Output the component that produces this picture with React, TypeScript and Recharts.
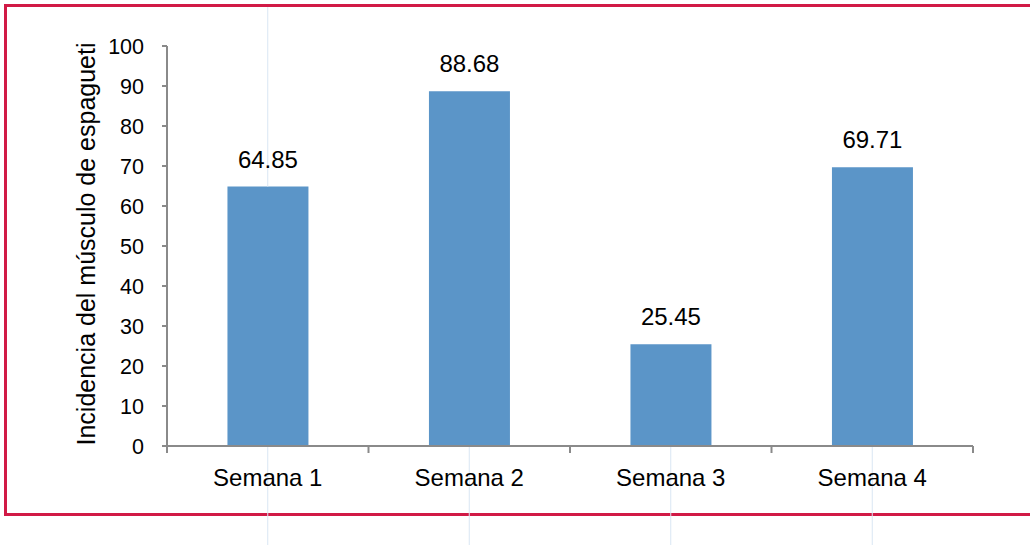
import React from "react";
import { BarChart, Bar, XAxis, YAxis, LabelList, ReferenceLine } from "recharts";

// Weekly incidence of the "spaghetti muscle" condition
const weeks = ["Semana 1", "Semana 2", "Semana 3", "Semana 4"];
const incidence = [64.85, 88.68, 25.45, 69.71];
const yTicks = [0, 10, 20, 30, 40, 50, 60, 70, 80, 90, 100];

const data = weeks.map((week, i) => ({ week, value: incidence[i] }));

const FONT = '"Liberation Sans", Arial, Helvetica, sans-serif';
const AXIS_GREY = "#8a8a8a";
const BAR_BLUE = "#5b95c8";
const FRAME_RED = "#d11a46";
const GUIDE_BLUE = "#d9e6f3";

const X_TICK_SIZE = 6;
const X_TICK_MARGIN = 17;
const EDGE_TICK_LEN = 7;

// Category label with tick marks placed on the band edges instead of the centre
const WeekTick = (props: any) => {
  const { x, y, payload, index } = props;
  const half = payload && typeof payload.offset === "number" ? payload.offset : 0;
  const axisY = y - X_TICK_SIZE - X_TICK_MARGIN;
  const isLast = index === weeks.length - 1;
  return (
    <g>
      <line
        x1={x - half}
        x2={x - half}
        y1={axisY}
        y2={axisY + EDGE_TICK_LEN}
        stroke={AXIS_GREY}
        strokeWidth={2}
      />
      {isLast && (
        <line
          x1={x + half}
          x2={x + half}
          y1={axisY}
          y2={axisY + EDGE_TICK_LEN}
          stroke={AXIS_GREY}
          strokeWidth={2}
        />
      )}
      <text
        x={x}
        y={y}
        dy="0.71em"
        textAnchor="middle"
        fontSize={24}
        fill="#000"
        fontFamily={FONT}
      >
        {payload.value}
      </text>
    </g>
  );
};

const YTitle = (props: any) => {
  const vb = props.viewBox || {};
  const cx = vb.x - 1;
  const cy = vb.y + vb.height / 2 - 2;
  return (
    <text
      x={cx}
      y={cy}
      transform={`rotate(-90, ${cx}, ${cy})`}
      textAnchor="middle"
      dominantBaseline="central"
      fontSize={25}
      fill="#000"
      fontFamily={FONT}
    >
      Incidencia del músculo de espagueti
    </text>
  );
};

export default function App() {
  return (
    <div style={{ position: "absolute", left: 0, top: 0, width: 1030, height: 545, overflow: "hidden", background: "#fff" }}>
      <div
        style={{
          position: "absolute",
          left: 4,
          top: 4,
          width: 1026,
          height: 512,
          boxSizing: "border-box",
          borderLeft: `3px solid ${FRAME_RED}`,
          borderTop: `3px solid ${FRAME_RED}`,
          borderBottom: `3px solid ${FRAME_RED}`,
        }}
      />
      <div style={{ position: "absolute", left: 0, top: 0 }}>
        <BarChart
          width={1030}
          height={545}
          data={data}
          margin={{ top: 46, right: 57, bottom: 59, left: 87 }}
          barCategoryGap="30%"
          style={{ fontFamily: FONT }}
        >
          <XAxis
            dataKey="week"
            height={40}
            axisLine={{ stroke: AXIS_GREY, strokeWidth: 2 }}
            tickLine={false}
            tickSize={X_TICK_SIZE}
            tickMargin={X_TICK_MARGIN}
            tick={<WeekTick />}
            interval={0}
          />
          <YAxis
            width={80}
            domain={[0, 100]}
            ticks={yTicks}
            interval={0}
            axisLine={{ stroke: AXIS_GREY, strokeWidth: 2 }}
            tickLine={{ stroke: AXIS_GREY, strokeWidth: 2 }}
            tickSize={5}
            tickMargin={18}
            tick={{ fontSize: 21.5, fill: "#000", fontFamily: FONT }}
            label={<YTitle />}
          />
          {weeks.map((w) => (
            <ReferenceLine
              key={`low-${w}`}
              segment={[
                { x: w, y: 0 },
                { x: w, y: -25 },
              ]}
              ifOverflow="visible"
              stroke={GUIDE_BLUE}
              strokeWidth={1}
            />
          ))}
          <ReferenceLine
            segment={[
              { x: weeks[0], y: incidence[0] },
              { x: weeks[0], y: 109.75 },
            ]}
            ifOverflow="visible"
            stroke={GUIDE_BLUE}
            strokeWidth={1}
          />
          <Bar dataKey="value" fill={BAR_BLUE} isAnimationActive={false}>
            <LabelList
              dataKey="value"
              position="top"
              offset={19}
              fontSize={24}
              fill="#000"
              fontFamily={FONT}
              formatter={(v: any) => Number(v).toFixed(2)}
            />
          </Bar>
        </BarChart>
      </div>
    </div>
  );
}
